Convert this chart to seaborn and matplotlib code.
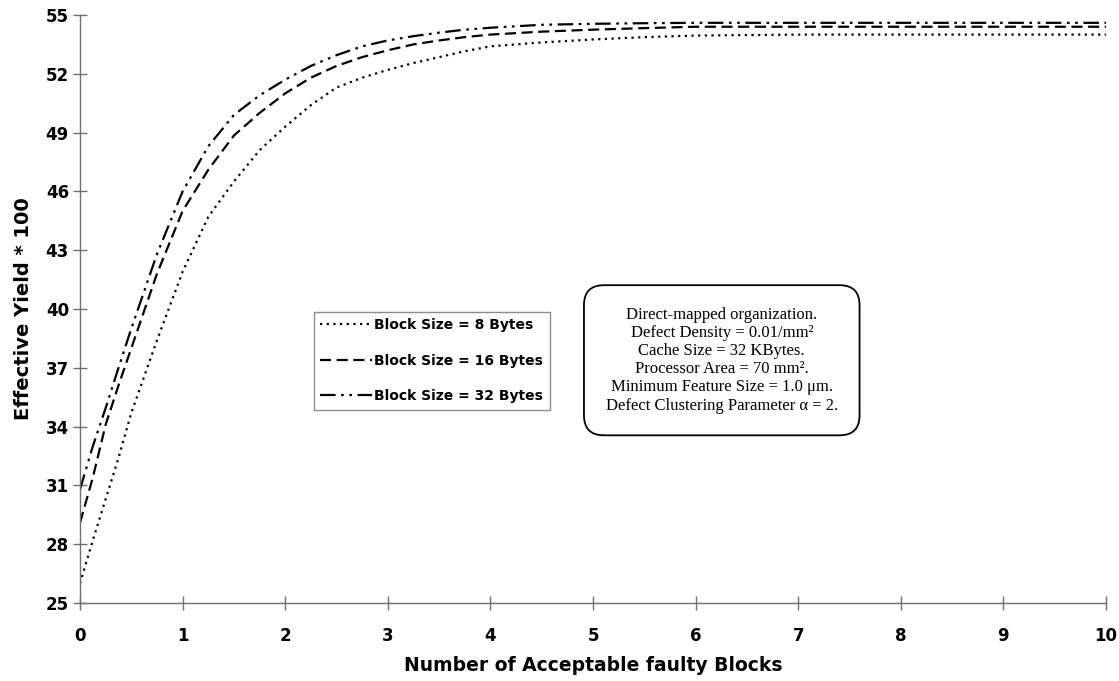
import matplotlib
matplotlib.use("Agg")
import matplotlib.pyplot as plt
import seaborn as sns
import pandas as pd
import numpy as np

# values
faulty_blocks = [0, 0.125, 0.25, 0.375, 0.5, 0.75, 1, 1.25, 1.5, 1.75, 2, 2.25, 2.5,
                 2.75, 3, 3.25, 3.5, 3.75, 4, 4.5, 5, 5.5, 6, 7, 8, 9, 10]
yield_8 = [26.0, 28.2, 30.3, 32.4, 34.7, 38.4, 41.9, 44.7, 46.5, 48.1, 49.3, 50.4, 51.3,
           51.8, 52.2, 52.55, 52.85, 53.15, 53.4, 53.6, 53.75, 53.87, 53.95, 54.0, 54.0, 54.0, 54.0]
yield_16 = [29.1, 31.4, 34.1, 36.1, 38.0, 41.8, 45.0, 47.1, 48.85, 50.0, 51.0, 51.8, 52.4,
            52.85, 53.2, 53.5, 53.7, 53.87, 54.0, 54.15, 54.25, 54.33, 54.4, 54.4, 54.4, 54.4, 54.4]
yield_32 = [30.8, 33.0, 34.95, 37.0, 39.0, 42.8, 46.0, 48.3, 49.9, 50.9, 51.7, 52.4, 52.95,
            53.4, 53.7, 53.92, 54.1, 54.25, 54.35, 54.5, 54.55, 54.58, 54.6, 54.6, 54.6, 54.6, 54.6]
series_names = ["Block Size = 8 Bytes", "Block Size = 16 Bytes", "Block Size = 32 Bytes"]

y_ticks = [25, 28, 31, 34, 37, 40, 43, 46, 49, 52, 55]
x_ticks = list(range(0, 11))

note_lines = [
    "Direct-mapped organization.",
    "Defect Density = 0.01/mm\u00b2",
    "Cache Size = 32 KBytes.",
    "Processor Area = 70 mm\u00b2.",
    "Minimum Feature Size = 1.0 \u03bcm.",
    "Defect Clustering Parameter \u03b1 = 2.",
]

frames = []
for name, vals in zip(series_names, [yield_8, yield_16, yield_32]):
    frames.append(pd.DataFrame({"x": faulty_blocks, "y": vals, "series": name}))
df = pd.concat(frames, ignore_index=True)

sns.set_style("white")
plt.rcParams['font.family'] = ['DejaVu Sans']
plt.rcParams['text.color'] = 'black'
plt.rcParams['axes.labelcolor'] = 'black'
plt.rcParams['xtick.color'] = 'black'
plt.rcParams['ytick.color'] = 'black'

fig = plt.figure(figsize=(11.19, 6.81), dpi=100)
ax = fig.add_axes([0.0715, 0.1145, 0.9169, 0.8635])

dash_map = {
    series_names[0]: (1, 2),
    series_names[1]: (5, 2.5),
    series_names[2]: (7, 2.5, 1.2, 2.5, 1.2, 2.5),
}
sns.lineplot(data=df, x="x", y="y", style="series", dashes=dash_map,
             color="black", linewidth=1.6, ax=ax, legend=True)

ax.set_xlim(0, 10)
ax.set_ylim(25, 55)
ax.set_xticks(x_ticks)
ax.set_yticks(y_ticks)
for sp in ["top", "right"]:
    ax.spines[sp].set_visible(False)
for sp in ["left", "bottom"]:
    ax.spines[sp].set_color("#707070")
    ax.spines[sp].set_linewidth(1.0)
ax.tick_params(axis="both", which="major", left=True, bottom=True, direction="inout",
               length=10, width=1.0, color="#707070", labelcolor="black", labelsize=12)
ax.tick_params(axis="y", pad=3)
ax.tick_params(axis="x", pad=12)
for lbl in ax.get_xticklabels() + ax.get_yticklabels():
    lbl.set_fontweight("bold")

ax.set_xlabel("Number of Acceptable faulty Blocks", fontsize=13.5, fontweight="bold", labelpad=8)
ax.set_ylabel("Effective Yield * 100", fontsize=14, fontweight="bold", labelpad=9)

handles, labels = ax.get_legend_handles_labels()
leg = ax.legend(handles, labels, loc="upper left", bbox_to_anchor=(0.2806, 0.5419),
                bbox_transform=fig.transFigure, borderaxespad=0, frameon=True,
                fancybox=False, handlelength=3.7, handletextpad=0.2,
                labelspacing=1.55, borderpad=0.45, prop={"weight": "bold", "size": 10})
leg.get_frame().set_edgecolor("#707070")
leg.get_frame().set_linewidth(1.0)

fig.text(0.645, 0.471, "\n".join(note_lines), ha="center", va="center",
         family="Liberation Serif", fontsize=12, linespacing=1.18,
         bbox=dict(boxstyle="round,pad=1.3,rounding_size=1.2", facecolor="white",
                   edgecolor="black", linewidth=1.3))

fig.savefig("out.png", dpi=100)
